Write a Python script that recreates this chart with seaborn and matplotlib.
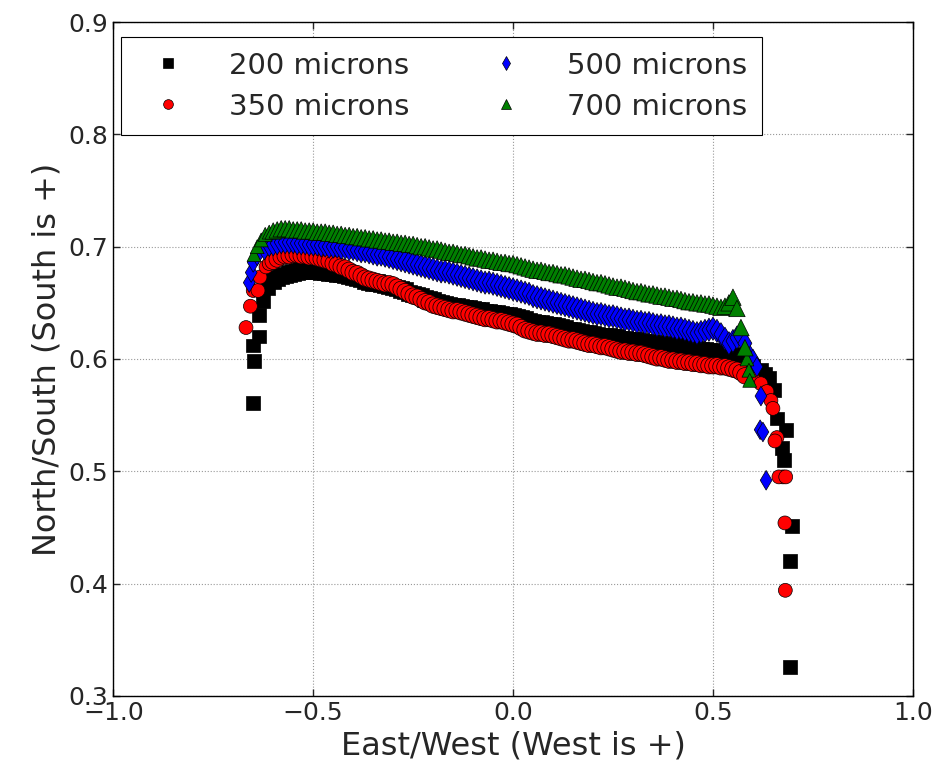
import pandas as pd
import numpy as np
import matplotlib
matplotlib.use("Agg")
import matplotlib.pyplot as plt
import seaborn as sns

# East/West positions shared by the dense part of every series
x_body = [-0.60, -0.59, -0.58, -0.57, -0.56, -0.55, -0.54, -0.53, -0.52, -0.51,
          -0.50, -0.49, -0.48, -0.47, -0.46, -0.45, -0.44, -0.43, -0.42, -0.41,
          -0.40, -0.39, -0.38, -0.37, -0.36, -0.35, -0.34, -0.33, -0.32, -0.31,
          -0.30, -0.29, -0.28, -0.27, -0.26, -0.25, -0.24, -0.23, -0.22, -0.21,
          -0.20, -0.19, -0.18, -0.17, -0.16, -0.15, -0.14, -0.13, -0.12, -0.11,
          -0.10, -0.09, -0.08, -0.07, -0.06, -0.05, -0.04, -0.03, -0.02, -0.01,
          0.00, 0.01, 0.02, 0.03, 0.04, 0.05, 0.06, 0.07, 0.08, 0.09,
          0.10, 0.11, 0.12, 0.13, 0.14, 0.15, 0.16, 0.17, 0.18, 0.19,
          0.20, 0.21, 0.22, 0.23, 0.24, 0.25, 0.26, 0.27, 0.28, 0.29,
          0.30, 0.31, 0.32, 0.33, 0.34, 0.35, 0.36, 0.37, 0.38, 0.39,
          0.40, 0.41, 0.42, 0.43, 0.44, 0.45, 0.46, 0.47, 0.48, 0.49,
          0.50, 0.51, 0.52, 0.53, 0.54, 0.55, 0.56, 0.57, 0.58]

# 200 microns
y_200 = [0.670, 0.672, 0.674, 0.675, 0.676, 0.677, 0.678, 0.679, 0.679, 0.680,
         0.679, 0.679, 0.678, 0.678, 0.677, 0.677, 0.676, 0.676, 0.675, 0.674,
         0.673, 0.672, 0.671, 0.670, 0.669, 0.668, 0.668, 0.667, 0.666, 0.665,
         0.664, 0.663, 0.662, 0.661, 0.659, 0.658, 0.657, 0.656, 0.654, 0.653,
         0.652, 0.651, 0.650, 0.649, 0.648, 0.647, 0.647, 0.646, 0.645, 0.645,
         0.644, 0.643, 0.643, 0.642, 0.642, 0.641, 0.641, 0.640, 0.639, 0.639,
         0.638, 0.637, 0.636, 0.635, 0.634, 0.633, 0.632, 0.632, 0.631, 0.630,
         0.630, 0.629, 0.628, 0.627, 0.626, 0.626, 0.625, 0.624, 0.623, 0.623,
         0.622, 0.621, 0.620, 0.620, 0.620, 0.619, 0.619, 0.618, 0.618, 0.617,
         0.617, 0.617, 0.616, 0.615, 0.615, 0.614, 0.614, 0.613, 0.613, 0.612,
         0.612, 0.611, 0.611, 0.610, 0.610, 0.609, 0.609, 0.608, 0.608, 0.607,
         0.607, 0.606, 0.605, 0.605, 0.604, 0.603, 0.602, 0.600, 0.597]
x_200_left = [-0.650, -0.648, -0.651, -0.635, -0.635, -0.625, -0.613]
y_200_left = [0.561, 0.598, 0.612, 0.620, 0.639, 0.652, 0.663]
x_200_right = [0.60, 0.62, 0.63, 0.640, 0.653, 0.660, 0.682, 0.672, 0.677,
               0.697, 0.692, 0.692]
y_200_right = [0.594, 0.590, 0.587, 0.583, 0.572, 0.547, 0.537, 0.521, 0.510,
               0.451, 0.420, 0.326]

# 350 microns
y_350 = [0.687, 0.689, 0.691, 0.692, 0.692, 0.693, 0.693, 0.692, 0.692, 0.691,
         0.691, 0.690, 0.689, 0.688, 0.687, 0.685, 0.684, 0.682, 0.681, 0.679,
         0.677, 0.676, 0.674, 0.672, 0.671, 0.670, 0.669, 0.668, 0.667, 0.667,
         0.666, 0.664, 0.662, 0.660, 0.658, 0.656, 0.655, 0.653, 0.651, 0.650,
         0.648, 0.647, 0.646, 0.645, 0.644, 0.643, 0.643, 0.642, 0.641, 0.640,
         0.639, 0.638, 0.637, 0.636, 0.636, 0.635, 0.634, 0.634, 0.633, 0.632,
         0.631, 0.630, 0.628, 0.626, 0.625, 0.624, 0.623, 0.623, 0.622, 0.622,
         0.621, 0.620, 0.619, 0.618, 0.617, 0.617, 0.616, 0.615, 0.614, 0.613,
         0.613, 0.612, 0.611, 0.611, 0.610, 0.609, 0.608, 0.607, 0.607, 0.606,
         0.606, 0.605, 0.605, 0.604, 0.603, 0.602, 0.601, 0.601, 0.600, 0.599,
         0.599, 0.598, 0.598, 0.597, 0.597, 0.596, 0.596, 0.595, 0.595, 0.594,
         0.594, 0.594, 0.593, 0.593, 0.592, 0.591, 0.590, 0.588, 0.585]
x_350_left = [-0.668, -0.657, -0.650, -0.638, -0.633, -0.618, -0.610]
y_350_left = [0.628, 0.647, 0.661, 0.661, 0.673, 0.682, 0.685]
x_350_right = [0.60, 0.62, 0.635, 0.645, 0.650, 0.660, 0.655, 0.675, 0.665,
               0.682, 0.680, 0.681]
y_350_right = [0.582, 0.578, 0.571, 0.563, 0.556, 0.530, 0.527, 0.495, 0.495,
               0.495, 0.454, 0.394]

# 500 microns
y_500 = [0.702, 0.703, 0.704, 0.704, 0.704, 0.704, 0.703, 0.703, 0.703, 0.702,
         0.702, 0.702, 0.701, 0.701, 0.700, 0.700, 0.700, 0.699, 0.699, 0.698,
         0.698, 0.697, 0.696, 0.696, 0.695, 0.694, 0.693, 0.693, 0.692, 0.691,
         0.690, 0.689, 0.688, 0.687, 0.686, 0.685, 0.684, 0.683, 0.682, 0.681,
         0.680, 0.679, 0.678, 0.678, 0.677, 0.676, 0.675, 0.674, 0.673, 0.672,
         0.671, 0.670, 0.669, 0.668, 0.668, 0.667, 0.666, 0.665, 0.664, 0.663,
         0.662, 0.661, 0.660, 0.659, 0.658, 0.656, 0.655, 0.654, 0.653, 0.652,
         0.651, 0.650, 0.649, 0.648, 0.647, 0.646, 0.645, 0.644, 0.643, 0.642,
         0.641, 0.640, 0.640, 0.639, 0.638, 0.638, 0.637, 0.636, 0.635, 0.635,
         0.634, 0.633, 0.633, 0.632, 0.632, 0.631, 0.630, 0.630, 0.629, 0.629,
         0.628, 0.627, 0.627, 0.626, 0.625, 0.624, 0.623, 0.624, 0.625, 0.626,
         0.627, 0.625, 0.622, 0.618, 0.614, 0.616, 0.619, 0.620, 0.614]
x_500_left = [-0.660, -0.655, -0.650, -0.640, -0.622, -0.610]
y_500_left = [0.668, 0.677, 0.686, 0.692, 0.697, 0.700]
x_500_right = [0.59, 0.60, 0.61, 0.62, 0.618, 0.625, 0.633]
y_500_right = [0.605, 0.600, 0.593, 0.567, 0.537, 0.535, 0.492]

# 700 microns
y_700 = [0.714, 0.715, 0.716, 0.716, 0.716, 0.715, 0.715, 0.715, 0.714, 0.714,
         0.714, 0.713, 0.713, 0.713, 0.712, 0.712, 0.711, 0.711, 0.710, 0.710,
         0.709, 0.709, 0.708, 0.708, 0.707, 0.707, 0.706, 0.706, 0.705, 0.705,
         0.704, 0.704, 0.703, 0.703, 0.702, 0.702, 0.701, 0.700, 0.700, 0.699,
         0.698, 0.698, 0.697, 0.696, 0.695, 0.695, 0.694, 0.693, 0.693, 0.692,
         0.691, 0.690, 0.690, 0.689, 0.688, 0.688, 0.687, 0.686, 0.686, 0.685,
         0.685, 0.684, 0.683, 0.682, 0.681, 0.680, 0.679, 0.679, 0.678, 0.677,
         0.677, 0.676, 0.675, 0.675, 0.674, 0.673, 0.672, 0.671, 0.671, 0.670,
         0.669, 0.668, 0.668, 0.667, 0.666, 0.665, 0.664, 0.664, 0.663, 0.662,
         0.661, 0.660, 0.660, 0.659, 0.658, 0.658, 0.657, 0.656, 0.656, 0.655,
         0.654, 0.654, 0.653, 0.652, 0.651, 0.651, 0.650, 0.650, 0.649, 0.649,
         0.648, 0.647, 0.646, 0.647, 0.650, 0.655, 0.645, 0.628, 0.610]
x_700_left = [-0.648, -0.640, -0.630, -0.620, -0.610]
y_700_left = [0.693, 0.700, 0.706, 0.711, 0.713]
x_700_right = [0.585, 0.590, 0.592]
y_700_right = [0.600, 0.590, 0.581]

labels = ["200 microns", "350 microns", "500 microns", "700 microns"]
colors = ["black", "red", "blue", "green"]
markers = ["s", "o", "d", "^"]

series = [
    (x_200_left, y_200_left, y_200, x_200_right, y_200_right),
    (x_350_left, y_350_left, y_350, x_350_right, y_350_right),
    (x_500_left, y_500_left, y_500, x_500_right, y_500_right),
    (x_700_left, y_700_left, y_700, x_700_right, y_700_right),
]
body_frames = []
tail_frames = []
for lab, (xl, yl, yb, xr, yr) in zip(labels, series):
    body_frames.append(pd.DataFrame({"ew": x_body, "ns": yb, "size": lab}))
    tail_frames.append(pd.DataFrame({"ew": xl + xr, "ns": yl + yr, "size": lab}))

sns.set_style("ticks")
plt.rcParams["font.family"] = ["DejaVu Sans"]
plt.rcParams["xtick.direction"] = "in"
plt.rcParams["ytick.direction"] = "in"

fig = plt.figure(figsize=(9.44, 7.63), dpi=100)
ax = fig.add_axes([0.12, 0.088, 0.847, 0.883])

pal = dict(zip(labels, colors))
mk = dict(zip(labels, markers))
# draw series one after another so later ones sit on top (black, red, blue, green)
for i, lab in enumerate(labels):
    sns.scatterplot(data=tail_frames[i], x="ew", y="ns", hue="size", style="size",
                    palette=pal, markers=mk, s=100, edgecolor="black",
                    linewidth=0.5, ax=ax, legend=False)
    sns.scatterplot(data=body_frames[i], x="ew", y="ns", hue="size", style="size",
                    palette=pal, markers=mk, s=140, edgecolor="black",
                    linewidth=0.5, ax=ax, legend=False)

ax.set_xlim(-1.0, 1.0)
ax.set_ylim(0.3, 0.9)
ax.set_xticks([-1.0, -0.5, 0.0, 0.5, 1.0])
ax.set_yticks([0.3, 0.4, 0.5, 0.6, 0.7, 0.8, 0.9])
ax.grid(True, linestyle=":", color="0.6", linewidth=0.8)
ax.tick_params(labelsize=18, top=True, right=True, length=5, width=1)
for sp in ax.spines.values():
    sp.set_color("black")
    sp.set_linewidth(1)
ax.set_xlabel("East/West (West is +)", fontsize=23)
ax.set_ylabel("North/South (South is +)", fontsize=23)

handles = [plt.Line2D([], [], linestyle="none", marker=m, color=c,
                      markeredgecolor="black", markeredgewidth=0.5,
                      markersize=7) for m, c in zip(markers, colors)]
leg = ax.legend(handles, labels, loc="upper left", ncol=2, fontsize=21,
                fancybox=False, framealpha=1,
                edgecolor="black", columnspacing=2.2, handletextpad=1.0,
                handlelength=2.2, borderpad=0.5, labelspacing=0.45,
                bbox_to_anchor=(0.01, 0.978), borderaxespad=0.0)
leg.get_frame().set_linewidth(0.8)

fig.savefig("out.png", dpi=100)
